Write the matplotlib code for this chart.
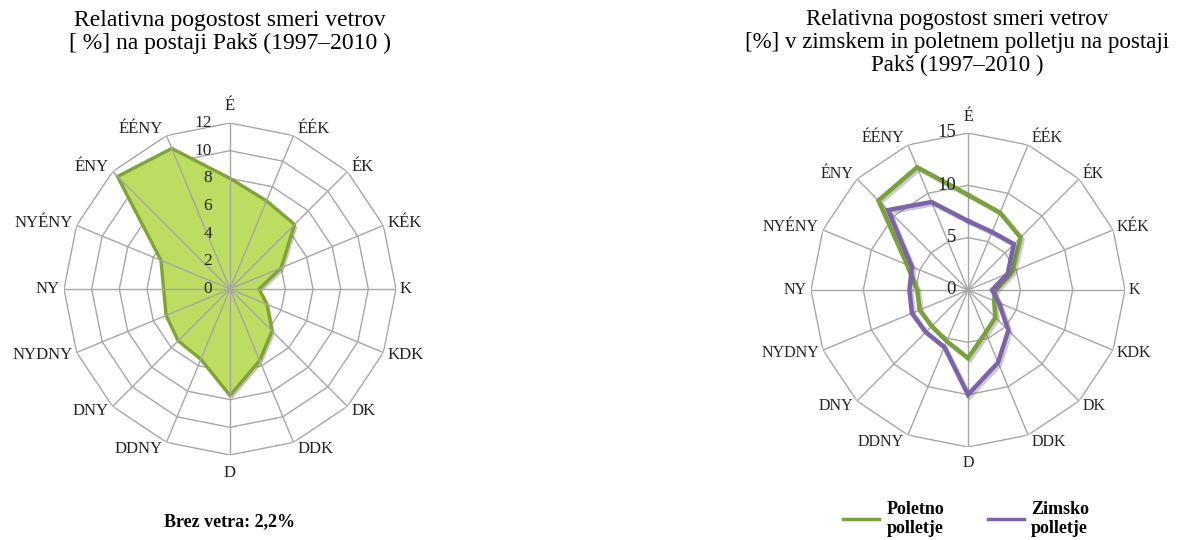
import numpy as np
import matplotlib
matplotlib.use("Agg")
import matplotlib.pyplot as plt
import matplotlib.patheffects as pe
from matplotlib.lines import Line2D

# Wind directions, clockwise from north
directions = ["É", "ÉÉK", "ÉK", "KÉK", "K", "KDK", "DK", "DDK",
              "D", "DDNY", "DNY", "NYDNY", "NY", "NYÉNY", "ÉNY", "ÉÉNY"]

# Relative frequency [%], whole year
annual = [8.0, 6.9, 6.6, 4.0, 2.1, 2.9, 4.3, 5.6,
          7.7, 5.5, 5.3, 5.0, 4.8, 5.4, 11.5, 11.0]
# Summer and winter half-year
summer = [9.1, 8.0, 7.1, 4.6, 2.6, 2.7, 3.7, 4.4,
          6.5, 5.3, 4.9, 5.0, 4.85, 6.3, 12.1, 12.7]
winter = [6.6, 6.0, 6.2, 4.1, 2.3, 3.2, 5.45, 7.5,
          10.0, 5.9, 5.7, 5.8, 5.6, 5.8, 10.8, 9.1]

left_ticks = [0, 2, 4, 6, 8, 10, 12]
right_ticks = [0, 5, 10, 15]

calm_text = "Brez vetra: 2,2%"
left_title = "Relativna pogostost smeri vetrov\n[ %] na postaji Pakš (1997–2010 )"
right_title = ("Relativna pogostost smeri vetrov\n"
               "[%] v zimskem in poletnem polletju na postaji\n"
               "Pakš (1997–2010 )")
series_names = ["Poletno\npolletje", "Zimsko\npolletje"]

W, H = 1183, 540
PX = 72 / 100  # points per pixel at 100 dpi
SERIF = ["Liberation Serif", "DejaVu Serif"]
GRID = "#a6a6a6"
FILL = "#bcdc62"
FILL_EDGE = "#7fa434"
GREEN = "#79a13c"
PURPLE = "#7d62a9"
TXT = "#222222"

plt.rcParams["font.family"] = SERIF

fig = plt.figure(figsize=(W / 100, H / 100), dpi=100)
fig.patch.set_facecolor("white")

theta = np.linspace(0, 2 * np.pi, len(directions), endpoint=False)
theta_c = np.append(theta, theta[0])


def closed(vals):
    return np.append(vals, vals[0])


def radar_axes(cx, cy, rad, ticks, label_size, tick_size, tick_pad, top_pad, bottom_pad):
    rmax = ticks[-1]
    ax = fig.add_axes([(cx - rad) / W, (H - cy - rad) / H, 2 * rad / W, 2 * rad / H],
                      projection="polar")
    ax.set_theta_zero_location("N")
    ax.set_theta_direction(-1)
    ax.set_ylim(0, rmax)
    ax.grid(False)
    ax.spines["polar"].set_visible(False)
    ax.set_xticks([])
    ax.set_yticks([])
    ax.patch.set_alpha(0)

    # polygonal web: rings and spokes
    for r in ticks[1:]:
        ax.plot(theta_c, [r] * len(theta_c), color=GRID, lw=1.0, zorder=1)
    for t in theta:
        ax.plot([t, t], [0, rmax], color=GRID, lw=1.0, zorder=3)

    # radial value labels along the north spoke
    for r in ticks:
        ax.annotate(str(r), xy=(0, r), xytext=(-tick_pad * PX, 0), textcoords="offset points",
                    ha="right", va="center", fontsize=tick_size, color=TXT,
                    annotation_clip=False, zorder=6)

    # direction labels around the web
    for t, name in zip(theta, directions):
        s, c = np.sin(t), np.cos(t)
        if abs(s) < 0.1:
            ha = "center"
            dx = 0
            va = "bottom" if c > 0 else "top"
            dy = top_pad if c > 0 else -bottom_pad
        else:
            ha = "left" if s > 0 else "right"
            dx = 4 * np.sign(s)
            va = "center"
            dy = 7 * c
        ax.annotate(name, xy=(t, rmax), xytext=(dx * PX, dy * PX),
                    textcoords="offset points", ha=ha, va=va,
                    fontsize=label_size, color=TXT, annotation_clip=False)
    return ax


# ---- left: whole-year rose ----
axl = radar_axes(230, 289, 166, left_ticks, label_size=12, tick_size=12.5, tick_pad=18,
                 top_pad=9, bottom_pad=10)
axl.fill(theta_c, closed(annual), facecolor=FILL, edgecolor=FILL_EDGE, lw=2.4,
         joinstyle="miter", zorder=2,
         path_effects=[pe.SimplePatchShadow(offset=(2, -2), alpha=0.35, shadow_rgbFace="#555555"),
                       pe.Normal()])

fig.text(230 / W, 1 - 10 / H, left_title, ha="center", va="top", fontsize=17,
         linespacing=1.14, color="black")
fig.text(230 / W, 1 - 522 / H, calm_text, ha="center", va="center", fontsize=13,
         fontweight="bold", color="black")

# ---- right: summer vs winter ----
axr = radar_axes(968, 290, 157, right_ticks, label_size=11.5, tick_size=13.5, tick_pad=12,
                 top_pad=8, bottom_pad=8)
shadow = [pe.SimpleLineShadow(offset=(1.5, -1.5), alpha=0.3, shadow_color="#555555"),
          pe.Normal()]
axr.plot(theta_c, closed(summer), color=GREEN, lw=3.2, solid_joinstyle="miter",
         zorder=4, path_effects=shadow)
axr.plot(theta_c, closed(winter), color=PURPLE, lw=3.2, solid_joinstyle="miter",
         zorder=5, path_effects=shadow)

fig.text(957 / W, 1 - 9 / H, right_title, ha="center", va="top", fontsize=16.5,
         linespacing=1.12, color="black")

handles = [Line2D([], [], color=GREEN, lw=2.5), Line2D([], [], color=PURPLE, lw=2.5)]
fig.legend(handles, series_names, loc="center", bbox_to_anchor=(966 / W, 1 - 519 / H),
           ncol=2, frameon=False, handlelength=2.0, handletextpad=0.4, columnspacing=2.4,
           prop={"family": SERIF, "weight": "bold", "size": 13})

fig.savefig("out.png", dpi=100, facecolor="white")
